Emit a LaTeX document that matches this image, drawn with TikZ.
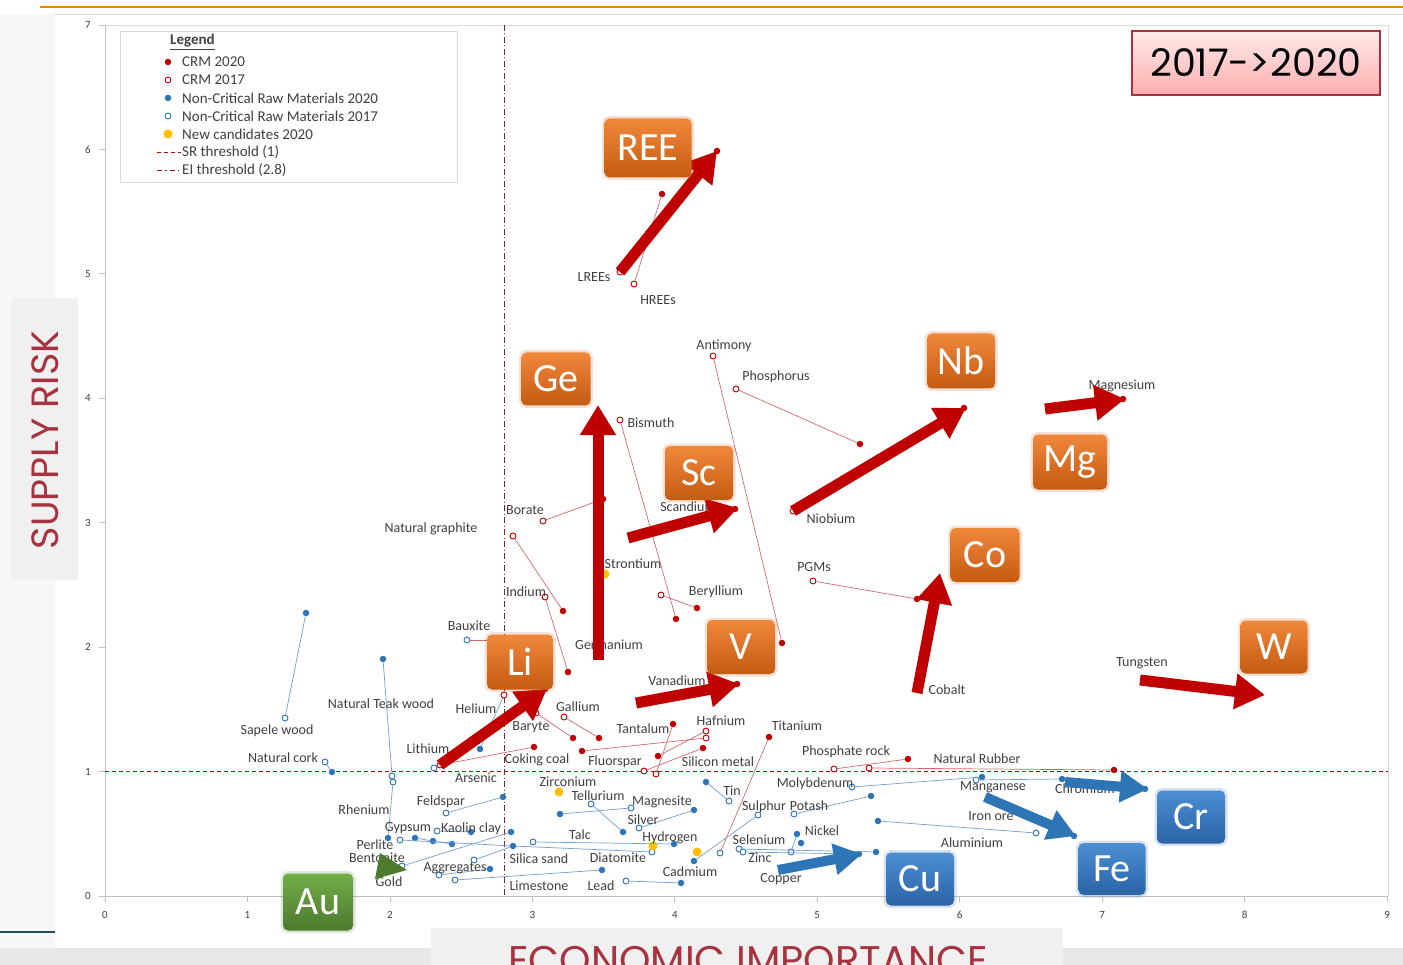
\documentclass[tikz,border=0pt]{standalone}
\usepackage{fontspec}
\setmainfont{Carlito}
\newfontfamily\gothic{Poppins}
\usetikzlibrary{arrows.meta}
\definecolor{crmred}{HTML}{C00000}
\definecolor{crmline}{HTML}{D06A70}
\definecolor{ncblue}{HTML}{2E75B6}
\definecolor{ncline}{HTML}{6F9FD0}
\definecolor{candy}{HTML}{FFC000}
\definecolor{labgrey}{HTML}{404040}
\definecolor{arrred}{HTML}{C00000}
\definecolor{arrblue}{HTML}{2E75B6}
\definecolor{orT}{HTML}{F0883C}
\definecolor{orB}{HTML}{C55A11}
\definecolor{blT}{HTML}{4B8FD2}
\definecolor{blB}{HTML}{2A63A6}
\definecolor{grT}{HTML}{70AD47}
\definecolor{grB}{HTML}{4E7A2E}
\definecolor{titred}{HTML}{A8323E}
\definecolor{orangeline}{HTML}{F08000}
\definecolor{axisgrey}{HTML}{BFBFBF}
\definecolor{framegrey}{HTML}{D9D9D9}
\definecolor{teal}{HTML}{1F4E5A}
\definecolor{darkdash}{HTML}{8B1A2A}
\newcommand\lbfont{\fontsize{14}{16}\selectfont}
\newcommand\legfont{\fontsize{15}{17}\selectfont}
\newcommand\tickfont{\fontsize{11}{12}\selectfont}
\newcommand\bigfont{\fontsize{40}{40}\selectfont}
\newcommand\mylbl[3]{\node[lab] (#1) at (#2) {#3};}
\newcommand\mypt[3]{\node[#1] (#2) at (#3) {};}
\begin{document}
\begin{tikzpicture}[x=1pt,y=-1pt,
  fr/.style={circle,fill=crmred,inner sep=0pt,minimum size=6.5pt},
  orr/.style={circle,draw=crmred,fill=white,line width=0.9pt,inner sep=0pt,minimum size=6pt},
  fb/.style={circle,fill=ncblue,inner sep=0pt,minimum size=6.5pt},
  ob/.style={circle,draw=ncblue,fill=white,line width=0.9pt,inner sep=0pt,minimum size=6pt},
  fy/.style={circle,fill=candy,inner sep=0pt,minimum size=9pt},
  lr/.style={draw=crmline,line width=0.7pt},
  lb/.style={draw=ncline,line width=0.7pt},
  lab/.style={font=\lbfont,text=labgrey,inner sep=0pt},
  legtext/.style={font=\legfont,text=labgrey,inner sep=0pt,anchor=west},
  bigred/.style={draw=arrred,line width=11pt,-{Triangle[length=30pt,width=34pt]}},
  bigblue/.style={draw=arrblue,line width=10pt,-{Triangle[length=28pt,width=30pt]}},
  tagbox/.style={rounded corners=5pt,text=white,font=\bigfont,inner sep=0pt},
  obox/.style={tagbox,top color=orT,bottom color=orB,preaction={draw=orB,line width=5pt,opacity=0.18}},
  bbox/.style={tagbox,top color=blT,bottom color=blB,preaction={draw=blB,line width=5pt,opacity=0.18}},
  gbox/.style={tagbox,top color=grT,bottom color=grB,preaction={draw=grB,line width=5pt,opacity=0.18}},
  tick/.style={draw=axisgrey,line width=0.8pt},
  ticklab/.style={font=\tickfont,text=labgrey,inner sep=0pt}]
\useasboundingbox (0,0) rectangle (1403,965);
% background
\fill[white] (0,0) rectangle (1403,965);
\fill[gray!6] (0,14) rectangle (55,948);
\fill[gray!18] (0,948) rectangle (1403,965);
\draw[teal,line width=1.2pt] (0,932) -- (55,932);
\draw[orangeline,line width=2pt] (40,7) -- (1403,7);
\draw[framegrey,line width=0.8pt] (55,14) -- (1403,14);
% title boxes
\fill[gray!12] (11,298) rectangle (78,580);
\node[font=\gothic\fontsize{38}{38}\selectfont,text=titred,rotate=90,inner sep=0pt] (ytitle) at (45,440) {SUPPLY RISK};
\fill[gray!12] (431,928) rectangle (1063,965);
\begin{scope}
\clip (431,928) rectangle (1063,965);
\node[font=\gothic\fontsize{40}{40}\selectfont,text=titred,inner sep=0pt,anchor=base] (xtitle) at (748,974) {ECONOMIC IMPORTANCE};
\end{scope}
% plot frame
\draw[framegrey,line width=0.8pt] (105,25) -- (1388,25) -- (1388,896);
\draw[axisgrey,line width=0.9pt] (105,25) -- (105,896) -- (1388,896);
\foreach \i in {0,...,7} {
  \draw[tick] (99,{896-124.43*\i}) -- (105,{896-124.43*\i});
  \node[ticklab] (yt\i) at (88,{896-124.43*\i}) {\i};
}
\foreach \i in {0,...,9} {
  \draw[tick] ({105+142.45*\i},896) -- ({105+142.45*\i},902);
  \node[ticklab] (xt\i) at ({105+142.45*\i},915) {\i};
}
% thresholds
\draw[crmred,line width=0.8pt,dash pattern=on 4pt off 3pt] (105,771) -- (1388,771);
\draw[darkdash,line width=0.8pt,dash pattern=on 6pt off 2.5pt on 1pt off 2.5pt] (504,25) -- (504,896);
% legend
\node[draw=framegrey,fill=white,line width=0.8pt,minimum width=337pt,minimum height=151pt,anchor=north west,inner sep=0pt] (legend) at (120,31) {};
\node[legtext] (lgT) at (170,42) {\bfseries\underline{Legend}};
\mypt{fr}{lg1}{168,62}
\mypt{orr}{lg2}{168,80}
\mypt{fb}{lg3}{168,98}
\mypt{ob}{lg4}{168,116}
\mypt{fy}{lg5}{168,134}
\draw[crmred,line width=0.9pt,dash pattern=on 4pt off 3pt] (157,152) -- (181,152);
\draw[darkdash,line width=0.9pt,dash pattern=on 5pt off 3pt on 1.5pt off 3pt] (157,170) -- (181,170);
\node[legtext] (lt1) at (182,62) {CRM 2020};
\node[legtext] (lt2) at (182,80) {CRM 2017};
\node[legtext] (lt3) at (182,98) {Non-Critical Raw Materials 2020};
\node[legtext] (lt4) at (182,116) {Non-Critical Raw Materials 2017};
\node[legtext] (lt5) at (182,134) {New candidates 2020};
\node[legtext] (lt6) at (182,152) {SR threshold (1)};
\node[legtext] (lt7) at (182,170) {EI threshold (2.8)};
% ---------- CRM points ----------
\mypt{orr}{hree17}{634,284} \mypt{fr}{hree20}{662,194}
\mypt{orr}{lree17}{620,272} \mypt{fr}{ree20}{717,151}
\mypt{orr}{sb17}{713,356} \mypt{fr}{sb20}{782,643}
\mypt{orr}{p17}{736,389} \mypt{fr}{p20}{860,444}
\mypt{orr}{bi17}{620,420} \mypt{fr}{bi20}{676,619}
\mypt{orr}{bor17}{543,521} \mypt{fr}{bor20}{603,499}
\mypt{orr}{gr17}{513,536} \mypt{fr}{gr20}{563,611}
\mypt{orr}{in17}{545,597} \mypt{fr}{in20}{568,672}
\mypt{orr}{be17}{661,595} \mypt{fr}{be20}{697,608}
\mypt{orr}{nb17}{793,511} \mypt{fr}{nb20}{964,408}
\mypt{orr}{pgm17}{813,581} \mypt{fr}{pgm20}{917,599}
\mypt{orr}{ga17}{564,717} \mypt{fr}{ga20}{599,738}
\mypt{orr}{ba17}{536,713} \mypt{fr}{ba20}{573,738}
\mypt{orr}{cc17}{440,765} \mypt{fr}{cc20}{534,747}
\mypt{orr}{hf17a}{706,731} \mypt{orr}{hf17b}{706,738}
\mypt{fr}{fl20}{582,751} \mypt{fr}{hf20}{658,756}
\mypt{orr}{ta17}{656,774} \mypt{fr}{ta20}{673,724}
\mypt{orr}{si17}{644,771} \mypt{fr}{si20}{703,748}
\mypt{ob}{ti17}{720,853} \mypt{fr}{ti20}{769,737}
\mypt{orr}{pr17}{834,769} \mypt{fr}{pr20}{908,759}
\mypt{orr}{nr17}{869,768} \mypt{fr}{nr20}{1114,770}
\mypt{ob}{bx17}{467,640} \mypt{fr}{bx20}{513,640}
\mypt{ob}{li17}{434,768} \mypt{fr}{li20}{545,689}
\mypt{orr}{he17}{504,695} \mypt{fb}{he20}{480,749}
\mypt{fr}{mg20}{1123,399}
\mypt{fr}{sc20}{735,509}
\mypt{fr}{v20}{737,684}
\mypt{fy}{sr}{605,574}
\draw[lr] (hree17) -- (hree20);
\draw[lr] (lree17) -- (ree20);
\draw[lr] (sb17) -- (sb20);
\draw[lr] (p17) -- (p20);
\draw[lr] (bi17) -- (bi20);
\draw[lr] (bor17) -- (bor20);
\draw[lr] (gr17) -- (gr20);
\draw[lr] (in17) -- (in20);
\draw[lr] (be17) -- (be20);
\draw[lr] (nb17) -- (nb20);
\draw[lr] (pgm17) -- (pgm20);
\draw[lr] (ga17) -- (ga20);
\draw[lr] (ba17) -- (ba20);
\draw[lr] (cc17) -- (cc20);
\draw[lr] (hf17b) -- (fl20);
\draw[lr] (hf17a) -- (hf20);
\draw[lr] (ta17) -- (ta20);
\draw[lr] (si17) -- (si20);
\draw[lr] (ti17) -- (ti20);
\draw[lr] (pr17) -- (pr20);
\draw[lr] (nr17) -- (nr20);
\draw[lr] (bx17) -- (bx20);
\draw[lr] (li17) -- (li20);
\draw[lb] (he17) -- (he20);
% ---------- non-critical points ----------
\mypt{ob}{sap17}{285,718} \mypt{fb}{sap20}{306,613}
\mypt{ob}{tk17}{392,776} \mypt{fb}{tk20}{383,659}
\mypt{ob}{ck17}{325,762} \mypt{fb}{ck20}{332,772}
\mypt{ob}{re17}{393,782} \mypt{fb}{re20}{388,838}
\mypt{ob}{fs17}{446,813} \mypt{fb}{fs20}{503,797}
\mypt{ob}{gy17}{400,840} \mypt{fb}{gy20}{513,846}
\mypt{ob}{ka17}{437,831} \mypt{fb}{ka20}{471,832}
\mypt{fb}{pe20}{415,838} \mypt{fb}{pe20b}{433,841} \mypt{fb}{pe20c}{452,844}
\mypt{ob}{bt17}{402,866} \mypt{fb}{bt20}{511,832}
\mypt{ob}{ss17}{474,860}
\mypt{ob}{ag17}{439,875} \mypt{fb}{ag20}{490,869}
\mypt{ob}{ls17}{455,880} \mypt{fb}{ls20}{602,870}
\mypt{ob}{tc17}{533,842} \mypt{fb}{tc20}{674,844}
\mypt{ob}{dia17}{652,852}
\mypt{fy}{zr}{559,792}
\mypt{ob}{te17}{591,804} \mypt{fb}{te20}{623,832}
\mypt{ob}{ms17}{631,808} \mypt{fb}{ms20}{560,814}
\mypt{ob}{sv17}{639,828} \mypt{fb}{sv20}{694,810}
\mypt{ob}{sn17}{729,801} \mypt{fb}{sn20}{706,782}
\mypt{fy}{hy}{653,846}
\mypt{fy}{nc3}{697,852}
\mypt{ob}{su17}{758,815} \mypt{fb}{cd20}{694,861}
\mypt{ob}{pb17}{626,881} \mypt{fb}{pb20}{681,883}
\mypt{ob}{se17}{739,849} \mypt{fb}{se20}{876,852}
\mypt{ob}{zn17}{743,852} \mypt{fb}{cu20}{859,854}
\mypt{ob}{ni17}{791,852} \mypt{fb}{ni20}{797,834} \mypt{fb}{ni20b}{801,843}
\mypt{ob}{k17}{794,814} \mypt{fb}{k20}{871,796}
\mypt{ob}{mo17}{852,787} \mypt{fb}{mo20}{982,777}
\mypt{ob}{mn17}{976,780} \mypt{fb}{mn20}{1062,779}
\mypt{fb}{cr20}{1145,789}
\mypt{ob}{io17}{1036,833} \mypt{fb}{io20}{878,821}
\mypt{fb}{al20}{1074,836}
\draw[lb] (sap17) -- (sap20);
\draw[lb] (tk17) -- (tk20);
\draw[lb] (ck17) -- (ck20);
\draw[lb] (re17) -- (re20);
\draw[lb] (fs17) -- (fs20);
\draw[lb] (gy17) -- (gy20);
\draw[lb] (ka17) -- (ka20);
\draw[lb] (pe20) -- (pe20b);
\draw[lb] (pe20b) -- (pe20c);
\draw[lb] (bt17) -- (bt20);
\draw[lb] (ss17) -- (gy20);
\draw[lb] (gy20) -- (dia17);
\draw[lb] (ag17) -- (ag20);
\draw[lb] (ls17) -- (ls20);
\draw[lb] (tc17) -- (tc20);
\draw[lb] (te17) -- (te20);
\draw[lb] (ms17) -- (ms20);
\draw[lb] (sv17) -- (sv20);
\draw[lb] (sn17) -- (sn20);
\draw[lb] (su17) -- (cd20);
\draw[lb] (pb17) -- (pb20);
\draw[lb] (se17) -- (se20);
\draw[lb] (zn17) -- (cu20);
\draw[lb] (ni17) -- (ni20);
\draw[lb] (k17) -- (k20);
\draw[lb] (mo17) -- (mo20);
\draw[lb] (mn17) -- (mn20);
\draw[lb] (io17) -- (io20);
% ---------- labels ----------
\mylbl{tLREE}{594,277}{LREEs}
\mylbl{tHREE}{658,300}{HREEs}
\mylbl{tSb}{724,346}{Antimony}
\mylbl{tP}{776,377}{Phosphorus}
\mylbl{tMgl}{1122,386}{Magnesium}
\mylbl{tBi}{651,423}{Bismuth}
\mylbl{tNbl}{831,519}{Niobium}
\mylbl{tScl}{688,507}{Scandium}
\mylbl{tBor}{525,510}{Borate}
\mylbl{tGr}{431,529}{Natural graphite}
\mylbl{tSr}{633,564}{Strontium}
\mylbl{tPGM}{814,567}{PGMs}
\mylbl{tIn}{526,592}{Indium}
\mylbl{tBe}{716,592}{Beryllium}
\mylbl{tBx}{469,626}{Bauxite}
\mylbl{tGel}{609,645}{Germanium}
\mylbl{tWl}{1142,663}{Tungsten}
\mylbl{tVl}{677,681}{Vanadium}
\mylbl{tCol}{947,690}{Cobalt}
\mylbl{tTk}{381,704}{Natural Teak wood}
\mylbl{tHe}{476,709}{Helium}
\mylbl{tGa}{578,707}{Gallium}
\mylbl{tSap}{277,731}{Sapele wood}
\mylbl{tBa}{531,727}{Baryte}
\mylbl{tTa}{643,729}{Tantalum}
\mylbl{tHf}{721,721}{Hafnium}
\mylbl{tTi}{797,726}{Titanium}
\mylbl{tLil}{428,749}{Lithium}
\mylbl{tPr}{846,752}{Phosphate rock}
\mylbl{tCk}{283,758}{Natural cork}
\mylbl{tCc}{537,760}{Coking coal}
\mylbl{tFl}{615,762}{Fluorspar}
\mylbl{tSi}{718,762}{Silicon metal}
\mylbl{tNr}{977,759}{Natural Rubber}
\mylbl{tAs}{476,778}{Arsenic}
\mylbl{tZr}{568,782}{Zirconium}
\mylbl{tMo}{815,784}{Molybdenum}
\mylbl{tMn}{993,787}{Manganese}
\mylbl{tCrl}{1085,789}{Chromium}
\mylbl{tSn}{732,791}{Tin}
\mylbl{tTe}{598,796}{Tellurium}
\mylbl{tFs}{441,802}{Feldspar}
\mylbl{tMs}{662,802}{Magnesite}
\mylbl{tSu}{764,807}{Sulphur}
\mylbl{tK}{809,806}{Potash}
\mylbl{tRe}{364,810}{Rhenium}
\mylbl{tIo}{991,816}{Iron ore}
\mylbl{tAg}{643,820}{Silver}
\mylbl{tGy}{408,828}{Gypsum}
\mylbl{tKa}{471,829}{Kaolin clay}
\mylbl{tTc}{580,835}{Talc}
\mylbl{tHy}{670,838}{Hydrogen}
\mylbl{tNi}{822,831}{Nickel}
\mylbl{tSe}{759,840}{Selenium}
\mylbl{tAl}{972,843}{Aluminium}
\mylbl{tPe}{375,845}{Perlite}
\mylbl{tBt}{377,858}{Bentonite}
\mylbl{tSs}{539,859}{Silica sand}
\mylbl{tDia}{618,858}{Diatomite}
\mylbl{tZn}{760,858}{Zinc}
\mylbl{tAgg}{455,868}{Aggregates}
\mylbl{tCd}{690,872}{Cadmium}
\mylbl{tCu}{781,879}{Copper}
\mylbl{tAu}{389,882}{Gold}
\mylbl{tLs}{539,886}{Limestone}
\mylbl{tPb}{601,886}{Lead}
% ---------- big arrows ----------
\coordinate (aREEs) at (620,272); \coordinate (aREEe) at (717,151);
\coordinate (aGes) at (598,660); \coordinate (aGee) at (598,405);
\coordinate (aScs) at (628,538); \coordinate (aSce) at (738,508);
\coordinate (aNbs) at (793,511); \coordinate (aNbe) at (966,408);
\coordinate (aMgs) at (1045,409); \coordinate (aMge) at (1125,399);
\coordinate (aCos) at (917,693); \coordinate (aCoe) at (940,573);
\coordinate (aLis) at (440,765); \coordinate (aLie) at (547,689);
\coordinate (aVs) at (636,703); \coordinate (aVe) at (739,684);
\coordinate (aWs) at (1140,680); \coordinate (aWe) at (1265,695);
\coordinate (aCrs) at (1065,782); \coordinate (aCre) at (1148,789);
\coordinate (aCus) at (778,870); \coordinate (aCue) at (862,854);
\coordinate (aFes) at (985,797); \coordinate (aFee) at (1076,836);
\draw[bigred] (aREEs) -- (aREEe);
\draw[bigred] (aGes) -- (aGee);
\draw[bigred] (aScs) -- (aSce);
\draw[bigred] (aNbs) -- (aNbe);
\draw[bigred] (aMgs) -- (aMge);
\draw[bigred] (aCos) -- (aCoe);
\draw[bigred] (aLis) -- (aLie);
\draw[bigred] (aVs) -- (aVe);
\draw[bigred] (aWs) -- (aWe);
\draw[bigblue] (aCrs) -- (aCre);
\draw[bigblue] (aCus) -- (aCue);
\draw[bigblue] (aFes) -- (aFee);
\fill[grB] (380,853) -- (375,879) -- (407,870) -- cycle;
% ---------- element tags ----------
\node[obox,minimum width=87pt,minimum height=59pt] (bREE) at (648,148) {REE};
\node[obox,minimum width=69pt,minimum height=53pt] (bGe) at (556,379) {Ge};
\node[obox,minimum width=68pt,minimum height=54pt] (bSc) at (699,473) {Sc};
\node[obox,minimum width=68pt,minimum height=55pt] (bNb) at (961,361) {Nb};
\node[obox,minimum width=74pt,minimum height=55pt] (bMg) at (1070,462) {Mg};
\node[obox,minimum width=69pt,minimum height=54pt] (bCo) at (985,555) {Co};
\node[obox,minimum width=66pt,minimum height=55pt] (bLi) at (520,662) {Li};
\node[obox,minimum width=68pt,minimum height=54pt] (bV) at (741,647) {V};
\node[obox,minimum width=67pt,minimum height=53pt] (bW) at (1274,647) {W};
\node[bbox,minimum width=68pt,minimum height=53pt] (bCr) at (1191,817) {Cr};
\node[bbox,minimum width=68pt,minimum height=53pt] (bCu) at (920,879) {Cu};
\node[bbox,minimum width=67pt,minimum height=52pt] (bFe) at (1112,869) {Fe};
\node[gbox,minimum width=70pt,minimum height=57pt] (bAu) at (318,902) {Au};
% ---------- period box ----------
\node[draw=titred,line width=1.2pt,top color=red!8,bottom color=red!32,minimum width=248pt,minimum height=64pt,inner sep=0pt,font=\gothic\fontsize{38}{38}\selectfont,text=black] (period) at (1256,63) {2017->2020};
\end{tikzpicture}
\end{document}
